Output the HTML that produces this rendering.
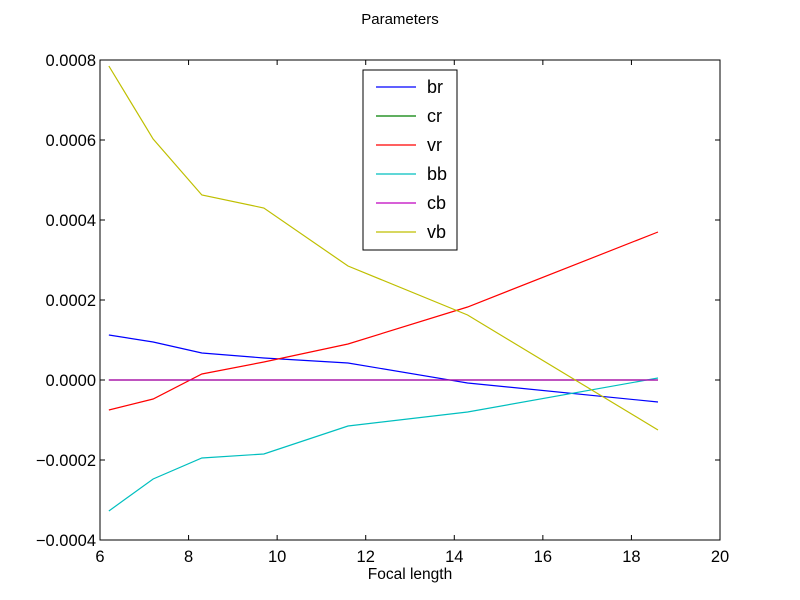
<!DOCTYPE html>
<html><head><meta charset="utf-8"><style>body{margin:0;background:#fff}svg{display:block}text{font-family:"Liberation Sans","DejaVu Sans",sans-serif}</style></head>
<body>
<svg id="chart" width="800" height="600">
<rect width="800" height="600" fill="#fff"/>
<text x="400" y="24" font-size="15" text-anchor="middle">Parameters</text>
<g id="plot"></g>
<text x="410" y="579" font-size="15.5" text-anchor="middle">Focal length</text>
</svg>
<script>
const xs = [6.2, 7.2, 8.3, 9.7, 11.6, 14.3, 18.6];
const seriesNames = ["br","cr","vr","bb","cb","vb"];
const br = [0.0001125,0.000095,0.0000675,0.000055,0.0000425,-0.0000075,-0.000055];
const cr = [0,0,0,0,0,0,0];
const vr = [-0.000075,-0.0000475,0.000015,0.000045,0.00009,0.0001825,0.00037];
const bb = [-0.0003275,-0.0002475,-0.000195,-0.000185,-0.000115,-0.00008,0.000005];
const cb = [0,0,0,0,0,0,0];
const vb = [0.000785,0.0006025,0.0004625,0.00043,0.000285,0.0001625,-0.000125];
const xTicks = [6,8,10,12,14,16,18,20];
const yTicks = [-0.0004,-0.0002,0,0.0002,0.0004,0.0006,0.0008];
const yTickLabels = ["\u22120.0004","\u22120.0002","0.0000","0.0002","0.0004","0.0006","0.0008"];

const L=100,R=720,T=60,B=540;
const sx=v=>L+(v-6)/(20-6)*(R-L);
const sy=v=>B-(v+0.0004)/(0.0012)*(B-T);
const NS="http://www.w3.org/2000/svg";
const g=document.getElementById('plot');
function mk(tag,attrs,parent){const e=document.createElementNS(NS,tag);for(const k in attrs)e.setAttribute(k,attrs[k]);(parent||g).appendChild(e);return e;}
const colors={br:"#0000ff",cr:"#007f00",vr:"#ff0000",bb:"#00bfbf",cb:"#bf00bf",vb:"#bfbf00"};
const data={br,cr,vr,bb,cb,vb};
seriesNames.forEach(n=>{
  const p=mk('polyline',{points:xs.map((x,i)=>sx(x)+','+sy(data[n][i])).join(' '),fill:'none',stroke:colors[n],'stroke-width':1.2});
  
  
});
const frame=mk('rect',{x:L,y:T,width:R-L,height:B-T,fill:'none',stroke:'#000','stroke-width':1});


xTicks.forEach(t=>{
  const x=sx(t);
  mk('line',{x1:x,x2:x,y1:B,y2:B-5,stroke:'#000'});
  mk('line',{x1:x,x2:x,y1:T,y2:T+5,stroke:'#000'});
  const tx=mk('text',{x:x,y:B+22,'font-size':16.5,'text-anchor':'middle'});
  tx.textContent=t;
  
  
});
yTicks.forEach((t,i)=>{
  const y=sy(t);
  mk('line',{x1:L,x2:L+5,y1:y,y2:y,stroke:'#000'});
  mk('line',{x1:R,x2:R-5,y1:y,y2:y,stroke:'#000'});
  const tx=mk('text',{x:L-4,y:y+6,'font-size':16.5,'text-anchor':'end'});
  tx.textContent=yTickLabels[i];
  
  
});
const lg=mk('g',{});


mk('rect',{x:363,y:70,width:94,height:180,fill:'#fff',stroke:'#000'},lg);
seriesNames.forEach((n,i)=>{
  const y=87+i*29;
  const e=mk('g',{},lg);
  
  
  mk('line',{x1:376,x2:416,y1:y,y2:y,stroke:colors[n],'stroke-width':1.2},e);
  const t=mk('text',{x:427,y:y+6,'font-size':18},e);
  t.textContent=n;
});
</script>
</body></html>
